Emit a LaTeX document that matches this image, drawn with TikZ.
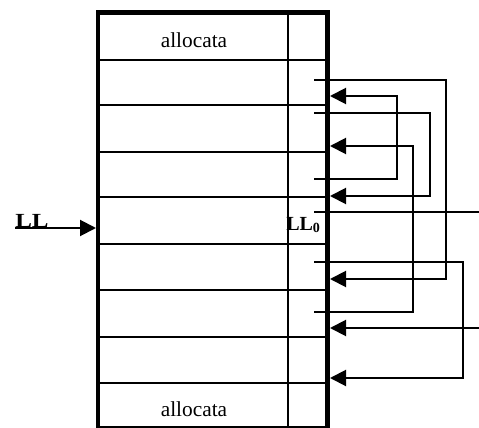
\documentclass[tikz,border=0pt]{standalone}
\usepackage{fontspec}
\setmainfont{Liberation Serif}
\usetikzlibrary{arrows.meta}

\tikzset{
  frame/.style={line width=3.4pt},
  cell/.style={line width=1.5pt},
  link/.style={line width=1.5pt,-{Triangle[length=12pt,width=12pt]}},
  lbl/.style={font=\fontsize{15}{17}\selectfont\bfseries,inner sep=0pt}
}

\begin{document}
\begin{tikzpicture}[x=0.75pt,y=-0.75pt]
  \useasboundingbox (0,0) rectangle (479,428);

  \foreach \y in {60,105,152,197,244,290,337,383}
    \draw[cell] (98,\y) -- (328,\y);
  \draw[cell] (288,12) -- (288,428);
  \draw[frame] (98,12.5) rectangle (327.5,428);

  \node[font=\fontsize{16}{18}\selectfont] (top) at (194,40) {allocata};
  \node[font=\fontsize{16}{18}\selectfont] (bot) at (194,409) {allocata};

  \node[lbl,anchor=base west] (ll) at (15,228) {\scalebox{1.25}[1]{LL}};
  \node[lbl,anchor=base west] (ll0) at (286,230) {LL\textsubscript{0}};

  \coordinate (in) at (96,228);
  \foreach \n/\y in {1/80,2/113,3/179,4/212,5/262,6/312}
    \coordinate (s\n) at (314,\y);
  \foreach \n/\y in {1/96,2/146,3/196,4/279,5/328,6/378}
    \coordinate (a\n) at (330,\y);
  \coordinate (e1) at (480,212);
  \coordinate (e2) at (480,328);

  \draw[link] (ll.base west) -- (in);
  \draw[link] (s1) -- ++(132,0) |- (a4);
  \draw[link] (s2) -- ++(116,0) |- (a3);
  \draw[link] (s3) -- ++(83,0) |- (a1);
  \draw[cell] (s4) -- (e1);
  \draw[link] (s5) -- ++(149,0) |- (a6);
  \draw[link] (s6) -- ++(99,0) |- (a2);
  \draw[link] (e2) -- (a5);
\end{tikzpicture}
\end{document}
